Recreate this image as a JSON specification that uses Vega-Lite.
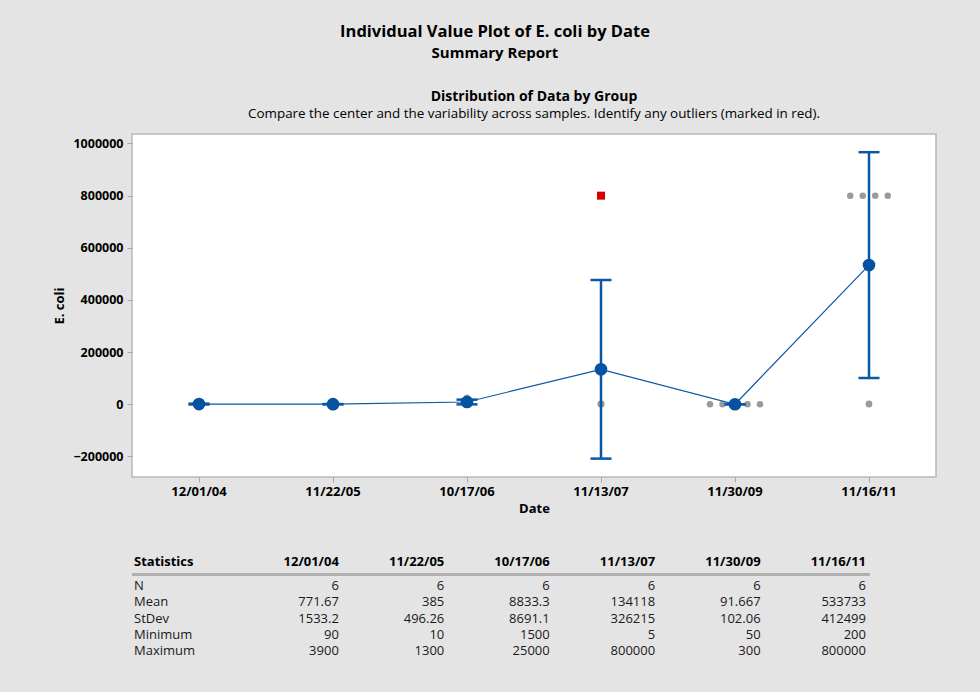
{
  "$schema": "https://vega.github.io/schema/vega-lite/v6.json",
  "background": "#e4e4e4",
  "padding": {"left": 53, "top": 24, "right": 45, "bottom": 33},
  "autosize": {"type": "pad"},
  "bounds": "flush",
  "spacing": 85,
  "config": {"font": "Open Sans", "view": {"stroke": null}},
  "title": {
    "text": "Individual Value Plot of E. coli by Date",
    "subtitle": "Summary Report",
    "fontSize": 16.5,
    "fontWeight": "bold",
    "color": "#000000",
    "subtitleFontSize": 15,
    "subtitleFontWeight": "bold",
    "subtitleColor": "#000000",
    "subtitlePadding": 5,
    "anchor": "middle",
    "offset": 28
  },
  "datasets": {
    "points": [
      {"date": "12/01/04", "value": 90, "slot": 0, "outlier": "no"},
      {"date": "12/01/04", "value": 100, "slot": 0, "outlier": "no"},
      {"date": "12/01/04", "value": 120, "slot": 0, "outlier": "no"},
      {"date": "12/01/04", "value": 200, "slot": 0, "outlier": "no"},
      {"date": "12/01/04", "value": 220, "slot": 0, "outlier": "no"},
      {"date": "11/22/05", "value": 10, "slot": 0, "outlier": "no"},
      {"date": "11/22/05", "value": 50, "slot": 0, "outlier": "no"},
      {"date": "11/22/05", "value": 100, "slot": 0, "outlier": "no"},
      {"date": "11/22/05", "value": 250, "slot": 0, "outlier": "no"},
      {"date": "11/22/05", "value": 600, "slot": 0, "outlier": "no"},
      {"date": "11/22/05", "value": 1300, "slot": 0, "outlier": "no"},
      {"date": "10/17/06", "value": 1500, "slot": 0, "outlier": "no"},
      {"date": "10/17/06", "value": 3000, "slot": 0, "outlier": "no"},
      {"date": "10/17/06", "value": 5000, "slot": 0, "outlier": "no"},
      {"date": "10/17/06", "value": 8500, "slot": 0, "outlier": "no"},
      {"date": "10/17/06", "value": 10000, "slot": 0, "outlier": "no"},
      {"date": "10/17/06", "value": 25000, "slot": 0, "outlier": "no"},
      {"date": "11/13/07", "value": 5, "slot": 0, "outlier": "no"},
      {"date": "11/13/07", "value": 500, "slot": 0, "outlier": "no"},
      {"date": "11/13/07", "value": 1000, "slot": 0, "outlier": "no"},
      {"date": "11/13/07", "value": 1203, "slot": 0, "outlier": "no"},
      {"date": "11/13/07", "value": 2000, "slot": 0, "outlier": "no"},
      {"date": "11/30/09", "value": 50, "slot": -4, "outlier": "no"},
      {"date": "11/30/09", "value": 50, "slot": -2, "outlier": "no"},
      {"date": "11/30/09", "value": 50, "slot": 0, "outlier": "no"},
      {"date": "11/30/09", "value": 50, "slot": 2, "outlier": "no"},
      {"date": "11/30/09", "value": 50, "slot": 4, "outlier": "no"},
      {"date": "11/16/11", "value": 800000, "slot": -3, "outlier": "no"},
      {"date": "11/16/11", "value": 800000, "slot": -1, "outlier": "no"},
      {"date": "11/16/11", "value": 800000, "slot": 1, "outlier": "no"},
      {"date": "11/16/11", "value": 800000, "slot": 3, "outlier": "no"},
      {"date": "11/16/11", "value": 200, "slot": 0, "outlier": "no"},
      {"date": "11/16/11", "value": 2198, "slot": 0, "outlier": "no"},
      {"date": "12/01/04", "value": 3900, "slot": 0, "outlier": "yes"},
      {"date": "11/13/07", "value": 800000, "slot": 0, "outlier": "yes"},
      {"date": "11/30/09", "value": 300, "slot": 0, "outlier": "yes"}
    ],
    "stats": [
      {"date": "12/01/04", "mean": 771.67, "lower": -837, "upper": 2381},
      {"date": "11/22/05", "mean": 385, "lower": -136, "upper": 906},
      {"date": "10/17/06", "mean": 8833.3, "lower": -289, "upper": 17955},
      {"date": "11/13/07", "mean": 134118, "lower": -208282, "upper": 476518},
      {"date": "11/30/09", "mean": 91.667, "lower": -15, "upper": 199},
      {"date": "11/16/11", "mean": 533733, "lower": 100775, "upper": 966691}
    ],
    "table": [
      {"stat": "Statistics", "col": "Statistics", "text": "Statistics"},
      {"stat": "Statistics", "col": "12/01/04", "text": "12/01/04"},
      {"stat": "Statistics", "col": "11/22/05", "text": "11/22/05"},
      {"stat": "Statistics", "col": "10/17/06", "text": "10/17/06"},
      {"stat": "Statistics", "col": "11/13/07", "text": "11/13/07"},
      {"stat": "Statistics", "col": "11/30/09", "text": "11/30/09"},
      {"stat": "Statistics", "col": "11/16/11", "text": "11/16/11"},
      {"stat": "N", "col": "Statistics", "text": "N"},
      {"stat": "N", "col": "12/01/04", "text": "6"},
      {"stat": "N", "col": "11/22/05", "text": "6"},
      {"stat": "N", "col": "10/17/06", "text": "6"},
      {"stat": "N", "col": "11/13/07", "text": "6"},
      {"stat": "N", "col": "11/30/09", "text": "6"},
      {"stat": "N", "col": "11/16/11", "text": "6"},
      {"stat": "Mean", "col": "Statistics", "text": "Mean"},
      {"stat": "Mean", "col": "12/01/04", "text": "771.67"},
      {"stat": "Mean", "col": "11/22/05", "text": "385"},
      {"stat": "Mean", "col": "10/17/06", "text": "8833.3"},
      {"stat": "Mean", "col": "11/13/07", "text": "134118"},
      {"stat": "Mean", "col": "11/30/09", "text": "91.667"},
      {"stat": "Mean", "col": "11/16/11", "text": "533733"},
      {"stat": "StDev", "col": "Statistics", "text": "StDev"},
      {"stat": "StDev", "col": "12/01/04", "text": "1533.2"},
      {"stat": "StDev", "col": "11/22/05", "text": "496.26"},
      {"stat": "StDev", "col": "10/17/06", "text": "8691.1"},
      {"stat": "StDev", "col": "11/13/07", "text": "326215"},
      {"stat": "StDev", "col": "11/30/09", "text": "102.06"},
      {"stat": "StDev", "col": "11/16/11", "text": "412499"},
      {"stat": "Minimum", "col": "Statistics", "text": "Minimum"},
      {"stat": "Minimum", "col": "12/01/04", "text": "90"},
      {"stat": "Minimum", "col": "11/22/05", "text": "10"},
      {"stat": "Minimum", "col": "10/17/06", "text": "1500"},
      {"stat": "Minimum", "col": "11/13/07", "text": "5"},
      {"stat": "Minimum", "col": "11/30/09", "text": "50"},
      {"stat": "Minimum", "col": "11/16/11", "text": "200"},
      {"stat": "Maximum", "col": "Statistics", "text": "Maximum"},
      {"stat": "Maximum", "col": "12/01/04", "text": "3900"},
      {"stat": "Maximum", "col": "11/22/05", "text": "1300"},
      {"stat": "Maximum", "col": "10/17/06", "text": "25000"},
      {"stat": "Maximum", "col": "11/13/07", "text": "800000"},
      {"stat": "Maximum", "col": "11/30/09", "text": "300"},
      {"stat": "Maximum", "col": "11/16/11", "text": "800000"}
    ]
  },
  "vconcat": [
    {
      "width": 804,
      "height": 343,
      "view": {"fill": "#ffffff", "stroke": "#b8b8b8", "strokeWidth": 1.5},
      "title": {
        "text": "Distribution of Data by Group",
        "subtitle": "Compare the center and the variability across samples. Identify any outliers (marked in red).",
        "fontSize": 14,
        "fontWeight": "bold",
        "color": "#000000",
        "subtitleFontSize": 13.4,
        "subtitleColor": "#000000",
        "subtitlePadding": 3,
        "anchor": "middle",
        "offset": 14
      },
      "encoding": {
        "x": {
          "field": "date",
          "type": "nominal",
          "sort": ["12/01/04", "11/22/05", "10/17/06", "11/13/07", "11/30/09", "11/16/11"],
          "scale": {"type": "band", "paddingInner": 0, "paddingOuter": 0},
          "axis": {
            "title": "Date",
            "labelAngle": 0,
            "labelFontWeight": "bold",
            "labelFontSize": 13,
            "labelColor": "#000000",
            "labelPadding": 3,
            "titleFontWeight": "bold",
            "titleFontSize": 13,
            "titleColor": "#000000",
            "titlePadding": 4,
            "tickSize": 5,
            "tickColor": "#a8a8a8",
            "domain": false
          }
        }
      },
      "layer": [
        {
          "data": {"name": "points"},
          "mark": {"type": "point", "filled": true, "opacity": 1},
          "encoding": {
            "xOffset": {
              "field": "slot",
              "type": "ordinal",
              "scale": {"type": "point", "domain": [-10, -9, -8, -7, -6, -5, -4, -3, -2, -1, 0, 1, 2, 3, 4, 5, 6, 7, 8, 9, 10], "padding": 0.72}
            },
            "y": {
              "field": "value",
              "type": "quantitative",
              "scale": {"domain": [-278800, 1036400], "nice": false, "zero": false},
              "axis": {
                "title": "E. coli",
                "values": [-200000, 0, 200000, 400000, 600000, 800000, 1000000],
                "format": "d",
                "grid": false,
                "labelFontWeight": "bold",
                "labelFontSize": 12.5,
                "labelColor": "#000000",
                "labelPadding": 4,
                "titleFontWeight": "bold",
                "titleFontSize": 13,
                "titleColor": "#000000",
                "titlePadding": 6,
                "tickSize": 5,
                "tickColor": "#a8a8a8",
                "domain": false
              }
            },
            "shape": {"field": "outlier", "type": "nominal", "scale": {"domain": ["no", "yes"], "range": ["circle", "square"]}, "legend": null},
            "color": {"field": "outlier", "type": "nominal", "scale": {"domain": ["no", "yes"], "range": ["#9a9a9a", "#d40000"]}, "legend": null},
            "size": {"field": "outlier", "type": "nominal", "scale": {"domain": ["no", "yes"], "range": [42, 64]}, "legend": null}
          }
        },
        {
          "data": {"name": "stats"},
          "mark": {"type": "rule", "color": "#0b57a4", "strokeWidth": 2.5},
          "encoding": {
            "y": {"field": "lower", "type": "quantitative"},
            "y2": {"field": "upper"}
          }
        },
        {
          "data": {"name": "stats"},
          "mark": {"type": "tick", "color": "#0b57a4", "size": 21, "thickness": 2.5, "orient": "horizontal", "opacity": 1},
          "encoding": {"y": {"field": "lower", "type": "quantitative"}}
        },
        {
          "data": {"name": "stats"},
          "mark": {"type": "tick", "color": "#0b57a4", "size": 21, "thickness": 2.5, "orient": "horizontal", "opacity": 1},
          "encoding": {"y": {"field": "upper", "type": "quantitative"}}
        },
        {
          "data": {"name": "stats"},
          "mark": {"type": "line", "color": "#0b57a4", "strokeWidth": 1.2},
          "encoding": {"y": {"field": "mean", "type": "quantitative"}}
        },
        {
          "data": {"name": "stats"},
          "mark": {"type": "point", "filled": true, "color": "#0552a3", "size": 160, "opacity": 1},
          "encoding": {"y": {"field": "mean", "type": "quantitative"}}
        }
      ]
    },
    {
      "width": 738,
      "height": 97,
      "data": {"name": "table"},
      "encoding": {
        "x": {
          "field": "col",
          "type": "nominal",
          "sort": ["Statistics", "12/01/04", "11/22/05", "10/17/06", "11/13/07", "11/30/09", "11/16/11"],
          "scale": {"type": "band", "paddingInner": 0, "paddingOuter": 0},
          "axis": null
        },
        "y": {
          "field": "stat",
          "type": "nominal",
          "sort": ["Statistics", "N", "Mean", "StDev", "Minimum", "Maximum"],
          "scale": {"type": "band", "paddingInner": 0, "paddingOuter": 0},
          "axis": null
        }
      },
      "layer": [
        {
          "mark": {"type": "rule", "color": "#b0b0b0", "strokeWidth": 2},
          "encoding": {
            "x": {"datum": "Statistics", "bandPosition": 0},
            "x2": {"datum": "11/16/11", "bandPosition": 1},
            "y": {"datum": "Statistics", "bandPosition": 0.75}
          }
        },
        {
          "transform": [{"filter": "datum.stat === 'Statistics' && datum.col === 'Statistics'"}],
          "mark": {"type": "text", "align": "left", "baseline": "middle", "fontSize": 13, "fontWeight": "bold", "color": "#000000", "dx": 2, "dy": -8},
          "encoding": {"x": {"field": "col", "type": "nominal", "bandPosition": 0}, "text": {"field": "text"}}
        },
        {
          "transform": [{"filter": "datum.stat === 'Statistics' && datum.col !== 'Statistics'"}],
          "mark": {"type": "text", "align": "right", "baseline": "middle", "fontSize": 13, "fontWeight": "bold", "color": "#000000", "dx": -4, "dy": -8},
          "encoding": {"x": {"field": "col", "type": "nominal", "bandPosition": 1}, "text": {"field": "text"}}
        },
        {
          "transform": [{"filter": "datum.stat !== 'Statistics' && datum.col === 'Statistics'"}],
          "mark": {"type": "text", "align": "left", "baseline": "middle", "fontSize": 13, "color": "#1a1a1a", "dx": 2},
          "encoding": {"x": {"field": "col", "type": "nominal", "bandPosition": 0}, "text": {"field": "text"}}
        },
        {
          "transform": [{"filter": "datum.stat !== 'Statistics' && datum.col !== 'Statistics'"}],
          "mark": {"type": "text", "align": "right", "baseline": "middle", "fontSize": 13, "color": "#1a1a1a", "dx": -4},
          "encoding": {"x": {"field": "col", "type": "nominal", "bandPosition": 1}, "text": {"field": "text"}}
        }
      ]
    }
  ]
}
